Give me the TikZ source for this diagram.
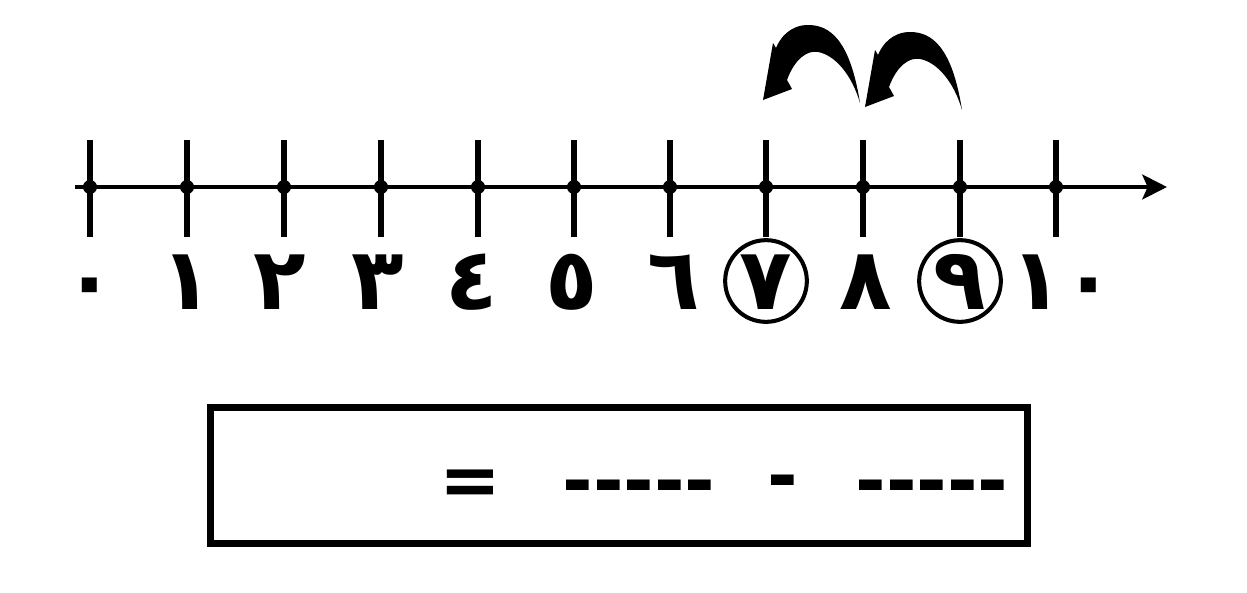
\documentclass[tikz,border=0pt]{standalone}
\usepackage{fontspec}
\newfontfamily\arabicfont[Script=Arabic]{DejaVu Sans}
\newfontfamily\symfont{DejaVu Sans}
\usetikzlibrary{arrows.meta}
\begin{document}
\begin{tikzpicture}[x=0.02cm,y=-0.02cm,
  axisline/.style={line width=2.8pt},
  tickline/.style={line width=3.8pt},
  dotmark/.style={fill=black},
  digit/.style={font=\arabicfont\bfseries\fontsize{49}{56}\selectfont, anchor=base, inner sep=0pt},
  ring/.style={draw, circle, line width=2.3pt, minimum size=46.5pt, inner sep=0pt},
  answerbox/.style={draw, line width=4pt, minimum width=465.5pt, minimum height=77pt, inner sep=0pt},
  sign/.style={font=\symfont\bfseries\fontsize{42}{48}\selectfont, inner sep=0pt},
  jump/.pic={\fill (0,0) .. controls (-10,-63) and (-30,-78) .. (-52,-78)
      .. controls (-70,-78) and (-80,-65) .. (-84,-55) -- (-87,-60) -- (-97,-3)
      -- (-68,-14) -- (-73,-23) .. controls (-65,-45) and (-52,-53) .. (-42,-51)
      .. controls (-25,-48) and (-8,-28) .. cycle;}]
\useasboundingbox (0,0) rectangle (1247,592);
% axis
\coordinate (axstart) at (75,187);
\coordinate (axend) at (1167,187);
\draw[axisline,-{Stealth[length=14pt,width=14pt,inset=3pt]}] (axstart) -- (axend);
% ticks and dots
\foreach \i/\x in {0/90,1/187,2/284,3/381,4/478,5/574,6/670,7/766,8/863,9/960,10/1056}{
  \coordinate (tt\i) at (\x,140);
  \coordinate (tb\i) at (\x,237);
  \coordinate (tc\i) at (\x,187);
  \draw[tickline] (tt\i) -- (tb\i);
  \fill[dotmark] (tc\i) circle[radius=4pt];
}
% digits
\foreach \i/\x/\d in {0/90/٠,1/187/١,2/280/٢,3/378/٣,4/472/٤,5/572/٥,6/674/٦,7/766/٧,8/866/٨,9/960/٩,10/1063/١٠}{
  \node[digit] (d\i) at (\x,309) {\d};
}
% circles
\node[ring] (c7) at (766,281) {};
\node[ring] (c9) at (960,281) {};
% jumps
\pic (jumpA) at (860,103) {jump};
\pic (jumpB) at (962,110) {jump};
% answer box
\node[answerbox] (box) at (619,475.5) {};
\node[sign] (eq) at (470,488) {=};
\node[sign] (blankA) at (639,493) {-----};
\node[sign] (minus) at (783,488) {-};
\node[sign] (blankB) at (932,493) {-----};
\end{tikzpicture}
\end{document}
